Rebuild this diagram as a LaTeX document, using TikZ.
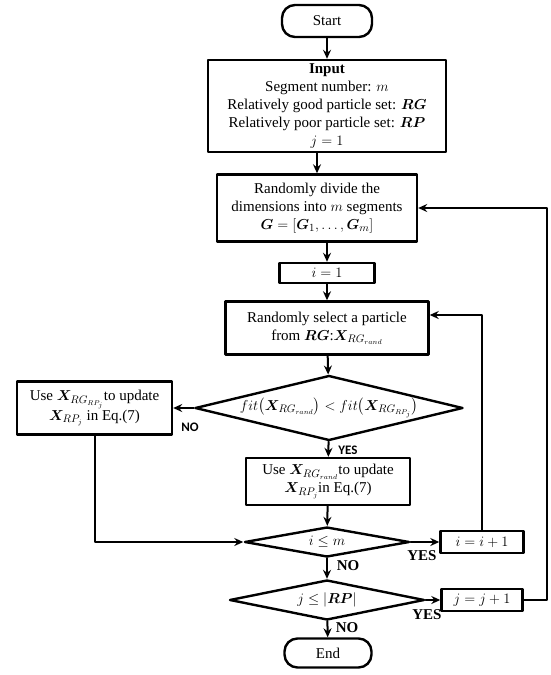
\documentclass[tikz,border=0pt]{standalone}
\usepackage{amsmath,bm}
\usepackage{fontspec}
\setmainfont{Liberation Serif}
\newfontfamily\labelfont{Carlito}
\usetikzlibrary{shapes.geometric,arrows.meta}

\begin{document}
\begin{tikzpicture}[x=1pt,y=-1pt,>={Stealth[length=9pt,width=8pt,inset=3pt]},line join=round,line cap=round,
		font=\fontsize{15}{18}\selectfont,
		box/.style={draw,line width=2.4pt,align=center,inner sep=1pt},
		term/.style={box,rounded corners=13pt},
		cond/.style={draw,line width=2.4pt,diamond,aspect=4,inner sep=0pt},
		flow/.style={->,line width=2pt},
		sanslab/.style={font=\labelfont\bfseries\fontsize{13}{15}\selectfont,inner sep=0pt},
		serlab/.style={font=\bfseries\fontsize{15}{18}\selectfont,inner sep=0pt}]
		\useasboundingbox (0,0) rectangle (551,675);
		% main column
		\node[term,minimum width=90pt,minimum height=32pt] (start) at (327,21) {Start};
		\node[box,minimum width=238pt,minimum height=92pt] (input) at (327,106) {\textbf{Input}\\Segment number: $m$\\Relatively good particle set: $\bm{RG}$\\Relatively poor particle set: $\bm{RP}$\\$j=1$};
		\node[box,minimum width=200pt,minimum height=67pt] (divide) at (317,208) {Randomly divide the\\dimensions into $m$ segments\\$\bm{G}=[\bm{G}_1,\ldots,\bm{G}_m]$};
		\node[box,minimum width=95pt,minimum height=20pt] (ione) at (327,273) {$i=1$};
		\node[box,minimum width=203pt,minimum height=53pt] (select) at (327,328) {Randomly select a particle\\from $\bm{RG}$:$\bm{X}_{RG_{rand}}$};
		\node[cond,minimum width=268pt,minimum height=65pt] (cmp) at (329,408) {$fit\bigl(\bm{X}_{RG_{rand}}\bigr)<fit\bigl(\bm{X}_{RG_{RP_j}}\bigr)$};
		\node[box,minimum width=155pt,minimum height=53pt] (useb) at (94.5,408) {Use $\bm{X}_{RG_{RP_j}}$to update\\$\bm{X}_{RP_j}$ in Eq.(7)};
		\node[box,minimum width=164pt,minimum height=47pt] (usea) at (328,481.5) {Use $\bm{X}_{RG_{rand}}$to update\\$\bm{X}_{RP_j}$in Eq.(7)};
		\node[cond,minimum width=165pt,minimum height=30pt] (iloop) at (327,542) {$i\le m$};
		\node[box,minimum width=83pt,minimum height=22pt] (iinc) at (482,542) {$i=i+1$};
		\node[cond,minimum width=195pt,minimum height=40pt] (jloop) at (327,600) {$j\le|\bm{RP}|$};
		\node[box,minimum width=81pt,minimum height=22pt] (jinc) at (482,600) {$j=j+1$};
		\node[term,minimum width=87pt,minimum height=29pt] (end) at (328,653) {End};
		% loop corners
		\coordinate (iback) at (482,315);
		\coordinate (jback) at (547,208);
		% connectors
		\draw[flow] (start) -- (input);
		\draw[flow] (input.south -| divide) -- (divide);
		\draw[flow] (divide.south -| ione) -- (ione);
		\draw[flow] (ione) -- (select);
		\draw[flow] (select) -- (cmp);
		\draw[flow] (cmp) -- (useb);
		\draw[flow] (cmp) -- (usea);
		\draw[flow] (usea) -- (iloop);
		\draw[flow] (useb) |- (iloop.west);
		\draw[flow] (iloop) -- (iinc);
		\draw[flow] (iinc) -- (iback) -- (iback -| select.east);
		\draw[flow] (iloop) -- (jloop);
		\draw[flow] (jloop) -- (jinc);
		\draw[flow] (jinc) -| (jback) -- (divide.east);
		\draw[flow] (jloop) -- (end);
		% branch labels
		\node[sanslab] (nocmp) at (190,427) {NO};
		\node[sanslab] (yescmp) at (348,450) {YES};
		\node[serlab] (yesi) at (422,556) {YES};
		\node[serlab] (noi) at (348,566) {NO};
		\node[serlab] (yesj) at (427,615) {YES};
		\node[serlab] (noj) at (347,628) {NO};
\end{tikzpicture}
\end{document}
